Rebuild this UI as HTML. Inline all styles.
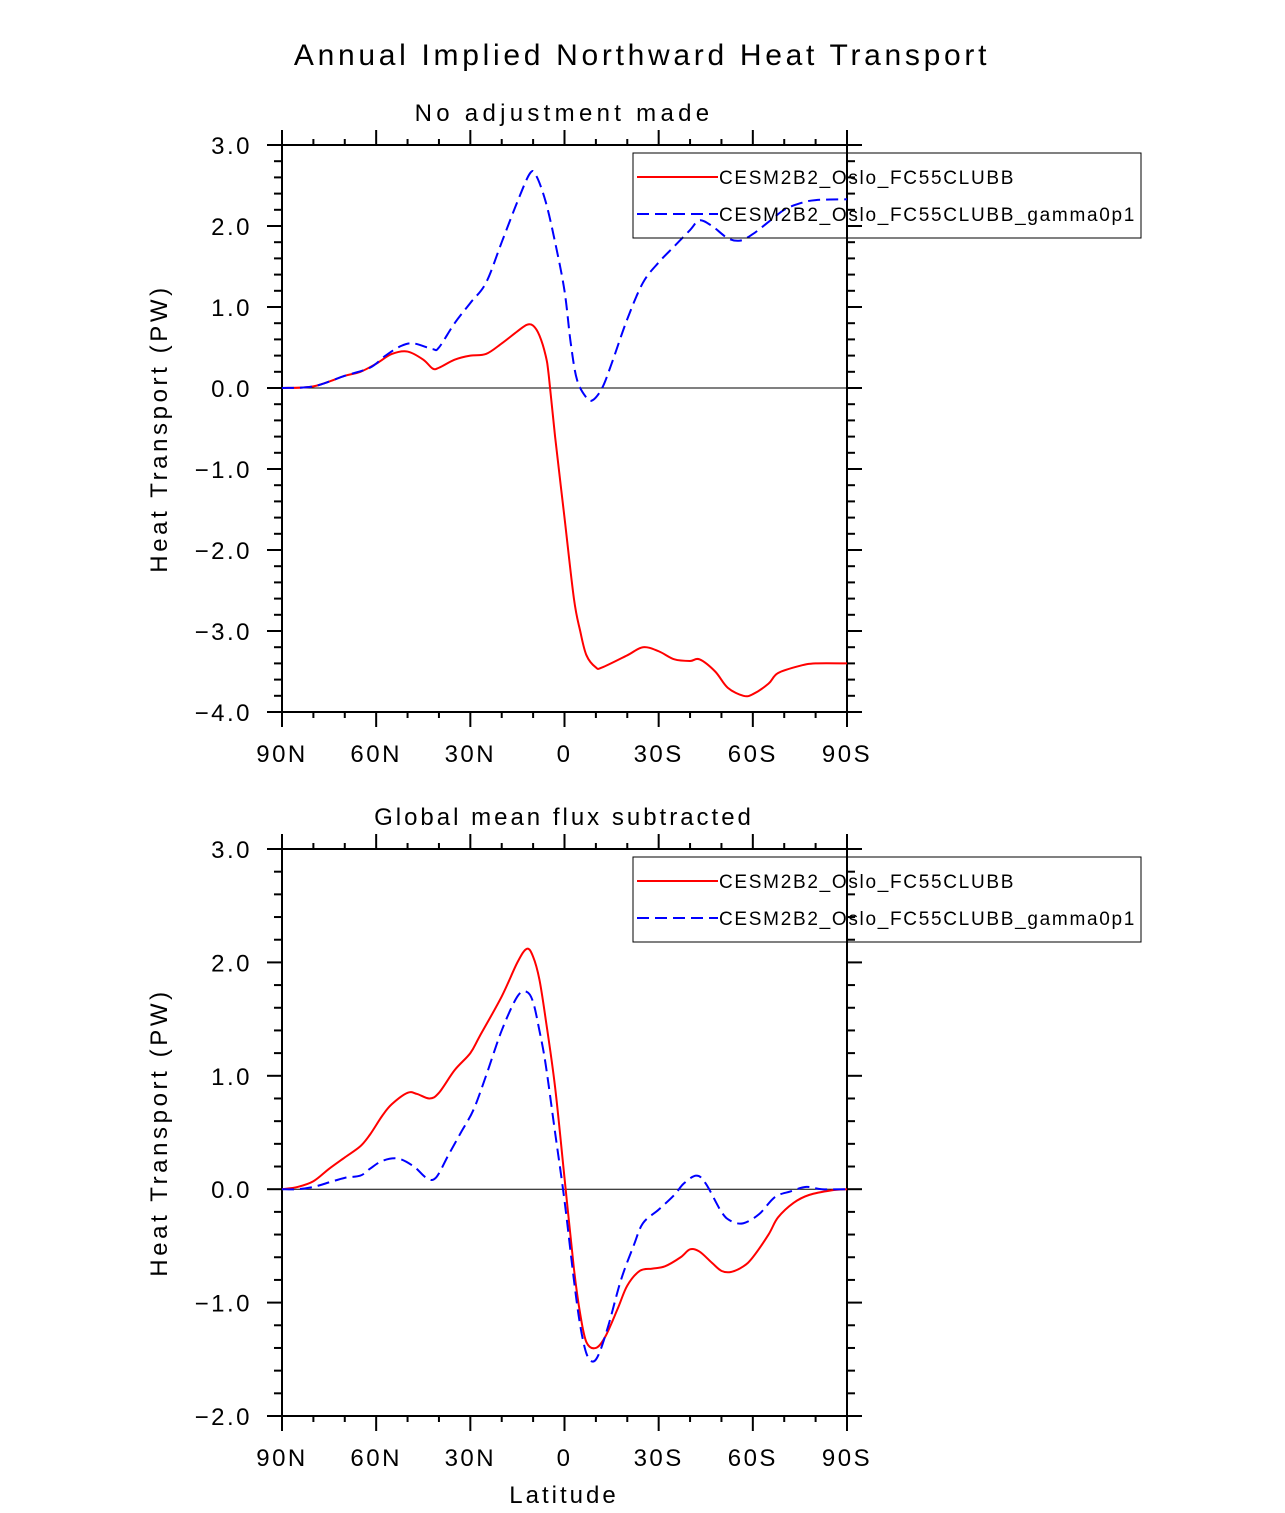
<!DOCTYPE html>
<html><head><meta charset="utf-8"><style>
body{margin:0;background:#fff;}
svg text{font-family:"Liberation Sans",sans-serif;fill:#000;}
</style></head><body>
<svg id="s" width="1285" height="1508" xmlns="http://www.w3.org/2000/svg">
<text x="642" y="65" font-size="30" text-anchor="middle" letter-spacing="3.7">Annual Implied Northward Heat Transport</text>
</svg>
<script>
const lats1r=[90,80,70,65,60,55,50,45,42,40,35,30,25,20,15,12,10,8,6,5,3,0,-3,-5,-7,-10,-12,-20,-25,-30,-35,-40,-43,-48,-52,-57,-60,-65,-68,-75,-80,-90];
const vals1r=[0,0.02,0.15,0.2,0.3,0.42,0.45,0.35,0.24,0.25,0.35,0.4,0.42,0.55,0.7,0.78,0.77,0.65,0.4,0.15,-0.6,-1.6,-2.6,-3.0,-3.3,-3.45,-3.45,-3.3,-3.2,-3.25,-3.35,-3.37,-3.35,-3.5,-3.7,-3.8,-3.78,-3.65,-3.52,-3.43,-3.4,-3.4];
const lats1b=[90,80,70,62,57,52,48,42,40,35,30,25,20,15,11,9,6,3,0,-2,-4,-7,-9,-12,-15,-20,-25,-30,-35,-40,-43,-47,-52,-56,-60,-65,-70,-75,-80,-90];
const vals1b=[0,0.02,0.15,0.25,0.4,0.52,0.55,0.48,0.5,0.8,1.05,1.3,1.8,2.3,2.65,2.62,2.3,1.8,1.2,0.55,0.1,-0.12,-0.15,0,0.3,0.85,1.3,1.55,1.75,1.95,2.07,2.0,1.85,1.82,1.9,2.05,2.2,2.28,2.32,2.33];
const lats2r=[90,85,80,75,70,65,62,58,55,50,47,43,40,35,30,27,20,15,12,10,8,6,3,0,-3,-5,-7,-10,-13,-17,-20,-24,-28,-32,-37,-40,-43,-47,-50,-53,-57,-60,-65,-68,-73,-78,-85,-90];
const vals2r=[0,0.02,0.07,0.18,0.28,0.38,0.48,0.65,0.75,0.85,0.84,0.8,0.85,1.05,1.2,1.35,1.7,2.0,2.12,2.05,1.85,1.5,0.9,0.1,-0.7,-1.1,-1.35,-1.4,-1.3,-1.05,-0.85,-0.72,-0.7,-0.68,-0.6,-0.53,-0.55,-0.65,-0.72,-0.73,-0.68,-0.6,-0.4,-0.25,-0.12,-0.05,-0.01,0];
const lats2b=[90,85,80,75,70,65,62,58,53,48,44,41,37,33,29,25,20,15,12,10,8,6,3,0,-3,-5,-7,-9,-11,-14,-18,-22,-25,-30,-35,-38,-42,-45,-50,-53,-57,-62,-67,-72,-77,-82,-90];
const vals2b=[0,0,0.02,0.06,0.1,0.12,0.18,0.25,0.27,0.2,0.1,0.1,0.3,0.5,0.7,1.0,1.4,1.7,1.74,1.65,1.4,1.1,0.5,-0.1,-0.8,-1.2,-1.45,-1.52,-1.45,-1.2,-0.8,-0.5,-0.3,-0.18,-0.05,0.05,0.12,0.05,-0.2,-0.28,-0.3,-0.22,-0.07,-0.02,0.02,0,0];
const xTicks=[90,60,30,0,-30,-60,-90];
const xLabels=["90N","60N","30N","0","30S","60S","90S"];
const yTicks1=[3,2,1,0,-1,-2,-3,-4];
const yLabels1=["3.0","2.0","1.0","0.0","\u22121.0","\u22122.0","\u22123.0","\u22124.0"];
const yTicks2=[3,2,1,0,-1,-2];
const yLabels2=["3.0","2.0","1.0","0.0","\u22121.0","\u22122.0"];
const names=["CESM2B2_Oslo_FC55CLUBB","CESM2B2_Oslo_FC55CLUBB_gamma0p1"];
const NS="http://www.w3.org/2000/svg";
const svg=document.getElementById('s');
function mk(t,a,p){const e=document.createElementNS(NS,t);for(const k in a)e.setAttribute(k,a[k]);(p||svg).appendChild(e);return e;}
function smooth(pts){
  let d='M'+pts[0][0]+','+pts[0][1];
  for(let i=0;i<pts.length-1;i++){
    const p0=pts[Math.max(0,i-1)],p1=pts[i],p2=pts[i+1],p3=pts[Math.min(pts.length-1,i+2)];
    const c1=[p1[0]+(p2[0]-p0[0])/6,p1[1]+(p2[1]-p0[1])/6];
    const c2=[p2[0]-(p3[0]-p1[0])/6,p2[1]-(p3[1]-p1[1])/6];
    d+=` C${c1[0]},${c1[1]} ${c2[0]},${c2[1]} ${p2[0]},${p2[1]}`;
  }
  return d;
}
function panel(o){
  const g=mk('g',{});
  
  
  const L=282,R=847,T=o.top,B=o.bot;
  const X=lat=>L+(90-lat)/180*(R-L);
  const Y=v=>T+(o.ymax-v)/(o.ymax-o.ymin)*(B-T);
  const st={stroke:'#000','stroke-width':2};
  for(let lat=90;lat>=-90;lat-=10){const x=X(lat);const maj=lat%30===0;
    mk('line',Object.assign({x1:x,x2:x,y1:T,y2:T-(maj?15:6)},st),g);
    mk('line',Object.assign({x1:x,x2:x,y1:B,y2:B+(maj?15:6)},st),g);}
  for(let v=o.ymax;v>=o.ymin-1e-9;v-=0.2){const y=Y(v);const maj=Math.abs(v-Math.round(v))<1e-6;
    mk('line',Object.assign({x1:L,x2:L-(maj?15:8),y1:y,y2:y},st),g);
    mk('line',Object.assign({x1:R,x2:R+(maj?15:8),y1:y,y2:y},st),g);}
  mk('rect',{x:L,y:T,width:R-L,height:B-T,fill:'none',stroke:'#000','stroke-width':2},g);
  mk('line',{x1:L,x2:R,y1:Y(0),y2:Y(0),stroke:'#000','stroke-width':1},g);
  xTicks.forEach((t,i)=>{const e=mk('text',{x:X(t),y:B+50,'font-size':24,'text-anchor':'middle','letter-spacing':2.5},g);e.textContent=xLabels[i];
    
    });
  o.yt.forEach((t,i)=>{const e=mk('text',{x:252,y:Y(t)+9,'font-size':24,'text-anchor':'end','letter-spacing':2.5},g);e.textContent=o.yl[i];
    
    });
  const yt=mk('text',{x:0,y:0,'font-size':24,'text-anchor':'middle',transform:`translate(167,${(T+B)/2}) rotate(-90)`,'letter-spacing':3.6},g);
  yt.textContent='Heat Transport (PW)';
  
  
  const sub=mk('text',{x:564,y:T-24,'font-size':24,'text-anchor':'middle','letter-spacing':o.ls},g);
  sub.textContent=o.sub;
  
  
  const pr=mk('path',{d:smooth(o.lr.map((l,i)=>[X(l),Y(o.vr[i])])),fill:'none',stroke:'#f00','stroke-width':2},g);
  
  
  const pb=mk('path',{d:smooth(o.lb.map((l,i)=>[X(l),Y(o.vb[i])])),fill:'none',stroke:'#00f','stroke-width':2,'stroke-dasharray':'12,6'},g);
  
  
  const lg=mk('g',{},g);
  
  
  const ly=o.legY;
  mk('rect',{x:633,y:ly,width:508,height:85,fill:'none',stroke:'#000','stroke-width':1},lg);
  [[ '#f00','none'],['#00f','12,6']].forEach((c,i)=>{const y=ly+24+i*37;
    mk('line',{x1:637,x2:718,y1:y,y2:y,stroke:c[0],'stroke-width':2,'stroke-dasharray':c[1]},lg);
    const t=mk('text',{x:719,y:y+7,'font-size':19,'letter-spacing':1.7},lg);t.textContent=names[i];
    
    });
}
panel({name:'panel-no-adjustment',top:145,bot:712,ymax:3,ymin:-4,yt:yTicks1,yl:yLabels1,sub:'No adjustment made',ls:4.3,lr:lats1r,vr:vals1r,lb:lats1b,vb:vals1b,legY:153});
panel({name:'panel-global-mean-subtracted',top:849,bot:1416,ymax:3,ymin:-2,yt:yTicks2,yl:yLabels2,sub:'Global mean flux subtracted',ls:3,lr:lats2r,vr:vals2r,lb:lats2b,vb:vals2b,legY:857});
const xl=mk('text',{x:564,y:1503,'font-size':24,'text-anchor':'middle','letter-spacing':3});
xl.textContent='Latitude';


</script>
</body></html>
